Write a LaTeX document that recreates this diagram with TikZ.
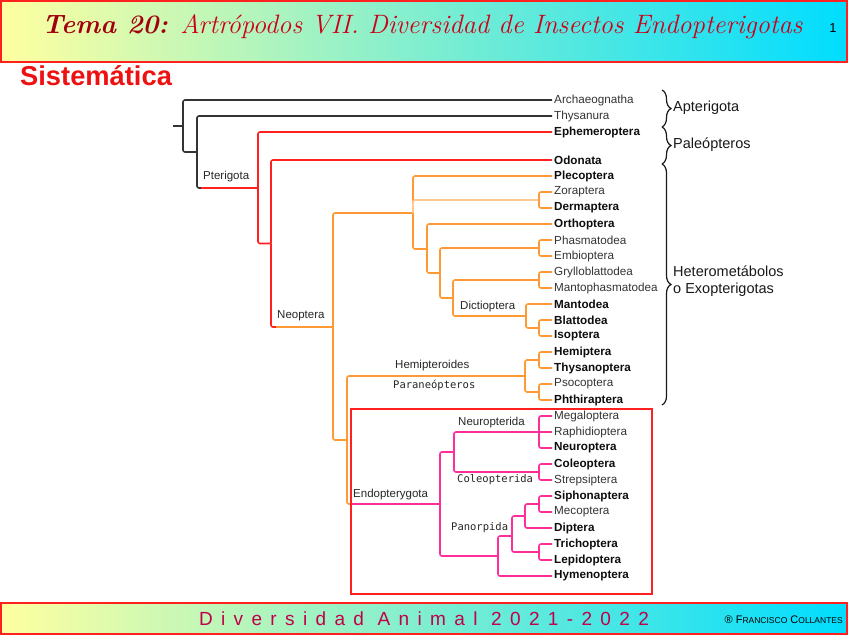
\documentclass[tikz,border=0pt]{standalone}
\usepackage{fontspec}
\newfontfamily\arial{Liberation Sans}
\newfontfamily\mono{DejaVu Sans Mono}
\newfontfamily\footfont[LetterSpace=44]{Liberation Sans}
\usetikzlibrary{decorations.pathreplacing}
\definecolor{cRed}{HTML}{FF2020}
\definecolor{cOrg}{HTML}{FF9933}
\definecolor{cLOrg}{HTML}{FFC890}
\definecolor{cPnk}{HTML}{FF2E9A}
\definecolor{cBlk}{HTML}{333333}
\definecolor{hdrL}{HTML}{FFFFA0}
\definecolor{hdrR}{HTML}{00DDFF}
\definecolor{titD}{HTML}{A00010}
\definecolor{titR}{HTML}{CC0018}
\definecolor{crim}{HTML}{C0004A}
\definecolor{sist}{HTML}{EE1111}
\begin{document}
\begin{tikzpicture}[x=1pt,y=-1pt,
  tip/.style={anchor=west, inner xsep=2pt, inner ysep=0pt, text=black!80,
    font=\arial\fontsize{11.7}{13}\selectfont},
  tipb/.style={tip, text=black!95, font=\arial\bfseries\fontsize{11.7}{13}\selectfont},
  lab/.style={anchor=west, inner sep=0pt, text=black!85, font=\arial\fontsize{11.5}{13}\selectfont},
  mlab/.style={anchor=west, inner sep=0pt, text=black!85, font=\mono\fontsize{10.5}{12}\selectfont},
  blab/.style={anchor=west, inner sep=0pt, text=black!90, align=left, font=\arial\fontsize{14.5}{17}\selectfont},
  br/.style={line width=1.6pt, rounded corners=2pt},
  cblk/.style={br, draw=cBlk},
  cred/.style={br, draw=cRed},
  corg/.style={br, draw=cOrg},
  clor/.style={br, draw=cLOrg},
  cpnk/.style={br, draw=cPnk},
  brace/.style={decorate, decoration={brace, amplitude=9pt}, line width=1.2pt, draw=black!90},
  band/.style={left color=hdrL, right color=hdrR, draw=cRed, line width=1.5pt}
]
\useasboundingbox (0,0) rectangle (848,635);

% header and footer bands
\path[band] (1,1) rectangle (847,62);
\path[band] (1,603) rectangle (847,634);
\node[anchor=base west, inner sep=0pt, font=\fontsize{26.6}{28}\selectfont] (title) at (42,33)
  {\textcolor{titD}{\textbf{\textit{Tema 20:}}}\textcolor{titR}{\textit{ Artrópodos VII. Diversidad de Insectos Endopterigotas}}};
\node[font=\arial\fontsize{13}{14}\selectfont] (pnum) at (833,28) {1};
\node[anchor=west, inner sep=0pt, text=sist, font=\arial\bfseries\fontsize{27.3}{29}\selectfont] (sis) at (20,76) {Sistemática};
\node[text=crim, font=\footfont\fontsize{19}{20}\selectfont] (foot) at (424,619) {Diversidad Animal 2021-2022};
\node[anchor=east, inner sep=0pt, font=\arial\fontsize{11}{12}\selectfont] (copy) at (843,620)
  {® F{\fontsize{8.5}{10}\selectfont RANCISCO} C{\fontsize{8.5}{10}\selectfont OLLANTES}};

% tips
\node[tip]  (arch)  at (552,100) {Archaeognatha};
\node[tip]  (thys)  at (552,116) {Thysanura};
\node[tipb] (ephe)  at (552,132) {Ephemeroptera};
\node[tipb] (odon)  at (552,160) {Odonata};
\node[tipb] (plec)  at (552,176) {Plecoptera};
\node[tip]  (zora)  at (552,192) {Zoraptera};
\node[tipb] (derm)  at (552,208) {Dermaptera};
\node[tipb] (orth)  at (552,224) {Orthoptera};
\node[tip]  (phas)  at (552,240) {Phasmatodea};
\node[tip]  (embi)  at (552,256) {Embioptera};
\node[tip]  (gryl)  at (552,272) {Grylloblattodea};
\node[tip]  (mant)  at (552,288) {Mantophasmatodea};
\node[tipb] (mtod)  at (552,304) {Mantodea};
\node[tipb] (blat)  at (552,320) {Blattodea};
\node[tipb] (isop)  at (552,336) {Isoptera};
\node[tipb] (hemi)  at (552,352) {Hemiptera};
\node[tipb] (thyn)  at (552,368) {Thysanoptera};
\node[tip]  (psoc)  at (552,384) {Psocoptera};
\node[tipb] (phth)  at (552,400) {Phthiraptera};
\node[tip]  (mega)  at (552,416) {Megaloptera};
\node[tip]  (raph)  at (552,432) {Raphidioptera};
\node[tipb] (neur)  at (552,448) {Neuroptera};
\node[tipb] (cole)  at (552,464) {Coleoptera};
\node[tip]  (stre)  at (552,480) {Strepsiptera};
\node[tipb] (siph)  at (552,496) {Siphonaptera};
\node[tip]  (meco)  at (552,512) {Mecoptera};
\node[tipb] (dipt)  at (552,528) {Diptera};
\node[tipb] (tric)  at (552,544) {Trichoptera};
\node[tipb] (lepi)  at (552,560) {Lepidoptera};
\node[tipb] (hyme)  at (552,576) {Hymenoptera};

% internal junctions
\coordinate (r0) at (173,126);
\coordinate (n1) at (183,126);
\coordinate (n2) at (197,152);
\coordinate (k1) at (201,188);
\coordinate (n3) at (258,188);
\coordinate (n4) at (271,243.5);
\coordinate (k2) at (276,327);
\coordinate (n5) at (333,327);
\coordinate (n6) at (413,213);
\coordinate (n7) at (539,200);
\coordinate (n8) at (427,249);
\coordinate (n9) at (440,273);
\coordinate (n10) at (539,248);
\coordinate (n11) at (453,298);
\coordinate (n12) at (539,280);
\coordinate (n13) at (526,316);
\coordinate (n14) at (539,328);
\coordinate (p1) at (347,440);
\coordinate (p2) at (525,376);
\coordinate (p3) at (539,360);
\coordinate (p4) at (539,392);
\coordinate (k3) at (351,504);
\coordinate (e1) at (440,504);
\coordinate (e2) at (454,452);
\coordinate (e3) at (539,432);
\coordinate (e4) at (539,472);
\coordinate (e5) at (498,556);
\coordinate (e6) at (512,536);
\coordinate (e7) at (525,516);
\coordinate (e8) at (539,504);
\coordinate (e9) at (539,552);

% Apterygota (black)
\draw[cblk] (r0) -- (n1);
\draw[cblk] (n1) |- (arch.west);
\draw[cblk] (n1) |- (n2);
\draw[cblk] (n2) |- (thys.west);
\draw[cblk] (n2) |- (k1);
% Pterygota (red)
\draw[cred] (k1) -- (n3);
\draw[cred] (n3) |- (ephe.west);
\draw[cred] (n3) |- (n4);
\draw[cred] (n4) |- (odon.west);
\draw[cred] (n4) |- (k2);
% Neoptera (orange)
\draw[corg] (k2) -- (n5);
\draw[corg] (n5) |- (n6);
\draw[corg] (n5) |- (p1);
\draw[corg] (n6) |- (plec.west);
\draw[clor] (n6) |- (n7);
\draw[corg] (n7) |- (zora.west);
\draw[corg] (n7) |- (derm.west);
\draw[corg] (n6) |- (n8);
\draw[corg] (n8) |- (orth.west);
\draw[corg] (n8) |- (n9);
\draw[corg] (n9) |- (n10);
\draw[corg] (n10) |- (phas.west);
\draw[corg] (n10) |- (embi.west);
\draw[corg] (n9) |- (n11);
\draw[corg] (n11) |- (n12);
\draw[corg] (n12) |- (gryl.west);
\draw[corg] (n12) |- (mant.west);
\draw[corg] (n11) |- (n13);
\draw[corg] (n13) |- (mtod.west);
\draw[corg] (n13) |- (n14);
\draw[corg] (n14) |- (blat.west);
\draw[corg] (n14) |- (isop.west);
\draw[corg] (p1) |- (p2);
\draw[corg] (p2) |- (p3);
\draw[corg] (p3) |- (hemi.west);
\draw[corg] (p3) |- (thyn.west);
\draw[corg] (p2) |- (p4);
\draw[corg] (p4) |- (psoc.west);
\draw[corg] (p4) |- (phth.west);
\draw[corg] (p1) |- (k3);
% Endopterygota (pink)
\draw[cpnk] (k3) -- (e1);
\draw[cpnk] (e1) |- (e2);
\draw[cpnk] (e2) |- (e3);
\draw[cpnk] (e3) |- (mega.west);
\draw[cpnk] (e3) -- (raph.west);
\draw[cpnk] (e3) |- (neur.west);
\draw[cpnk] (e2) |- (e4);
\draw[cpnk] (e4) |- (cole.west);
\draw[cpnk] (e4) |- (stre.west);
\draw[cpnk] (e1) |- (e5);
\draw[cpnk] (e5) |- (e6);
\draw[cpnk] (e5) |- (hyme.west);
\draw[cpnk] (e6) |- (e7);
\draw[cpnk] (e7) |- (e8);
\draw[cpnk] (e8) |- (siph.west);
\draw[cpnk] (e8) |- (meco.west);
\draw[cpnk] (e7) |- (dipt.west);
\draw[cpnk] (e6) |- (e9);
\draw[cpnk] (e9) |- (tric.west);
\draw[cpnk] (e9) |- (lepi.west);

% clade labels
\node[lab]  (lPter) at (203,177) {Pterigota};
\node[lab]  (lNeo)  at (277,316) {Neoptera};
\node[lab]  (lDict) at (460,307) {Dictioptera};
\node[lab]  (lHemi) at (395,366) {Hemipteroides};
\node[mlab] (lPara) at (393,385) {Paraneópteros};
\node[lab]  (lNeur) at (458,423) {Neuropterida};
\node[mlab] (lCol)  at (457,480) {Coleopterida};
\node[lab]  (lEndo) at (353,495) {Endopterygota};
\node[mlab] (lPan)  at (451,528) {Panorpida};

% Endopterygota box
\draw[cRed, line width=1.5pt] (351,409) rectangle (652,594);

% braces
\draw[brace] (662,90) -- (662,127);
\draw[brace] (662,127) -- (662,164);
\draw[brace] (662,164) -- (662,405);
\node[blab] (bApt) at (673,108) {Apterigota};
\node[blab] (bPal) at (673,145) {Paleópteros};
\node[blab] (bHet) at (673,281) {Heterometábolos\\o Exopterigotas};
\end{tikzpicture}
\end{document}
